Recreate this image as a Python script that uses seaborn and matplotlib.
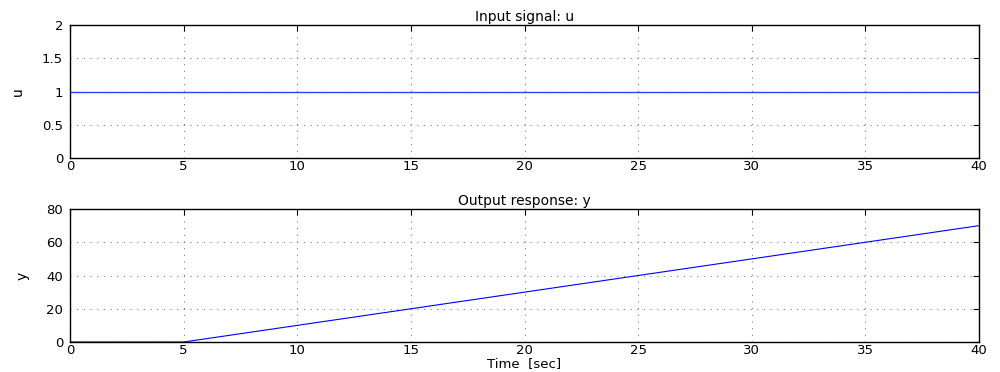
import numpy as np
import pandas as pd
import seaborn as sns
import matplotlib.pyplot as plt

# signal data
t_in = [0, 40]
u_vals = [1, 1]
t_out = [0, 5, 40]
y_vals = [0, 0, 70]

x_ticks = [0, 5, 10, 15, 20, 25, 30, 35, 40]
u_ticks = [0, 0.5, 1, 1.5, 2]
y_ticks = [0, 20, 40, 60, 80]

sns.set_theme(style="white", rc={"text.color": "black", "axes.labelcolor": "black"})
plt.rcParams['font.family'] = ['DejaVu Sans']

fig = plt.figure(figsize=(10, 3.72), dpi=100)
ax1 = fig.add_axes([0.07, 0.575, 0.909, 0.3575])
ax2 = fig.add_axes([0.07, 0.0806, 0.909, 0.3575])

df_in = pd.DataFrame({"t": t_in, "u": u_vals})
df_out = pd.DataFrame({"t": t_out, "y": y_vals})

sns.lineplot(data=df_in, x="t", y="u", ax=ax1, color="#3040ff", linewidth=1.0)
sns.lineplot(data=df_out, x="t", y="y", ax=ax2, color="#0000ff", linewidth=0.8)


def style(ax, yticks, title, ylabel):
    ax.set_xlim(0, 40)
    ax.set_ylim(yticks[0], yticks[-1])
    ax.set_xticks(x_ticks)
    ax.set_yticks(yticks)
    ax.set_yticklabels([f"{v:g}" for v in yticks])
    ax.set_title(title, fontsize=10, pad=3, color="black")
    ax.set_ylabel(ylabel, fontsize=10, labelpad=12, color="black")
    ax.set_xlabel("")
    ax.grid(True, linestyle=(0, (1, 5)), color="#808080", linewidth=0.8)
    ax.tick_params(direction="in", top=True, right=True, length=4, width=0.8,
                   labelsize=9.5, colors="black")
    ax.tick_params(axis="x", pad=1.5)
    ax.tick_params(axis="y", pad=5)
    for s in ax.spines.values():
        s.set_color("black")
        s.set_linewidth(1.0)


style(ax1, u_ticks, "Input signal: u", "u")
style(ax2, y_ticks, "Output response: y", "y")
ax2.set_xlabel("Time  [sec]", fontsize=9.5, labelpad=0, color="black")

fig.savefig("out.png", dpi=100)
